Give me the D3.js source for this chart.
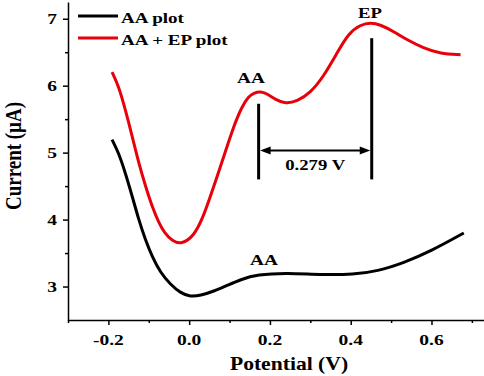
<!DOCTYPE html>
<html><head><meta charset="utf-8">
<script src="https://cdn.jsdelivr.net/npm/d3@7"></script>
<style>body{margin:0;background:#fff}svg{display:block}</style>
</head><body>
<script>
const aaX = [-0.191,-0.1745,-0.158,-0.141,-0.125,-0.108,-0.092,-0.071,-0.046,-0.022,0.003,0.028,0.061,0.094,0.127,0.168,0.242,0.325,0.408,0.466,0.531,0.598,0.680];
const aaY = [5.194,4.996,4.697,4.348,4.000,3.690,3.452,3.204,3.030,2.906,2.846,2.866,2.930,3.015,3.104,3.179,3.204,3.175,3.179,3.228,3.354,3.527,3.800];
const epX = [-0.191,-0.1745,-0.158,-0.141,-0.125,-0.108,-0.092,-0.075,-0.061,-0.042,-0.019,0.011,0.036,0.061,0.086,0.110,0.131,0.147,0.160,0.176,0.193,0.214,0.238,0.267,0.300,0.333,0.366,0.395,0.424,0.449,0.474,0.506,0.539,0.580,0.622,0.672];
const epY = [6.204,5.990,5.642,5.243,4.846,4.497,4.199,3.950,3.801,3.680,3.632,3.745,4.051,4.497,4.945,5.393,5.691,5.840,5.890,5.915,5.881,5.791,5.731,5.766,5.891,6.139,6.488,6.787,6.910,6.945,6.910,6.810,6.687,6.563,6.478,6.463];
const xTicks = [-0.2,0.0,0.2,0.4,0.6];
const xMinor = [-0.3,-0.1,0.1,0.3,0.5,0.7];
const yTicks = [3,4,5,6,7];
const yMinor = [3.5,4.5,5.5,6.5];
const seriesNames = ["AA plot","AA + EP plot"];
const seriesColors = ["#000000","#e8000b"];
const peakX = [0.172, 0.452];
const peakTop = [5.73, 6.71];
const peakBottom = 4.6;
const arrowY = 5.03;
const sepLabel = "0.279 V";

const W=484,H=376;
const svg=d3.select("body").append("svg").attr("width",W).attr("height",H);
const x=d3.scaleLinear().domain([-0.3,0.73]).range([68,484]);
const y=d3.scaleLinear().domain([2.5,7.25]).range([320,2]);
const font="'Liberation Serif','Times New Roman',serif";

function txt(tx,ty,t,size,sx,anchor,fill){
  const g=svg.append("g").attr("transform",`translate(${tx},${ty}) scale(${sx},1)`);
  g.append("text").attr("text-anchor",anchor||"middle").attr("font-family",font)
    .attr("font-weight","bold").attr("font-size",size).attr("fill",fill||"#000").text(t);
  return g;
}

// axes
svg.append("g").attr("transform","translate(0,320)")
  .call(d3.axisBottom(x).tickValues(xTicks).tickFormat("").tickSize(5).tickSizeOuter(0));
svg.append("g").attr("transform","translate(0,320)")
  .call(d3.axisBottom(x).tickValues(xMinor).tickFormat("").tickSize(3).tickSizeOuter(0)).select(".domain").remove();
svg.append("g").attr("transform","translate(68,0)")
  .call(d3.axisLeft(y).tickValues(yTicks).tickFormat("").tickSize(5).tickSizeOuter(0));
svg.append("g").attr("transform","translate(68,0)")
  .call(d3.axisLeft(y).tickValues(yMinor).tickFormat("").tickSize(3).tickSizeOuter(0)).select(".domain").remove();
svg.selectAll(".domain, .tick line").attr("stroke","#000").attr("stroke-width",1.5);
svg.selectAll(".tick text").remove();
const fx=d3.format(".1f");
xTicks.forEach(v=>txt(x(v),345,fx(v).replace("−","-"),15,1.3,"middle"));
yTicks.forEach(v=>txt(57,y(v)+5,String(v),15,1.3,"end"));

// titles
txt(289,370,"Potential (V)",18,1.2,"middle");
svg.append("g").attr("transform","translate(21,156) rotate(-90) scale(1,1.2)")
  .append("text").attr("text-anchor","middle").attr("font-family",font)
  .attr("font-weight","bold").attr("font-size",19).text("Current (µA)");

// curves
const line=d3.line().x(d=>x(d[0])).y(d=>y(d[1])).curve(d3.curveBasis);
svg.append("path").datum(aaX.map((v,i)=>[v,aaY[i]])).attr("d",line)
  .attr("fill","none").attr("stroke",seriesColors[0]).attr("stroke-width",3);
svg.append("path").datum(epX.map((v,i)=>[v,epY[i]])).attr("d",line)
  .attr("fill","none").attr("stroke",seriesColors[1]).attr("stroke-width",3);

// annotation
peakX.forEach((px,i)=>{
  svg.append("line").attr("x1",x(px)).attr("x2",x(px)).attr("y1",y(peakTop[i])).attr("y2",y(peakBottom))
    .attr("stroke","#000").attr("stroke-width",3);
});
svg.append("line").attr("x1",x(peakX[0])+8).attr("x2",x(peakX[1])-8).attr("y1",y(arrowY)).attr("y2",y(arrowY))
  .attr("stroke","#000").attr("stroke-width",2);
[[x(peakX[0]),1],[x(peakX[1]),-1]].forEach(([ax,dir])=>{
  const ay=y(arrowY);
  svg.append("path").attr("d",`M${ax+1.5*dir},${ay} L${ax+12*dir},${ay-4} L${ax+12*dir},${ay+4} Z`).attr("fill","#000");
});
txt((x(peakX[0])+x(peakX[1]))/2,170,sepLabel,15,1.25,"middle");

txt(251,83,"AA",15,1.29,"middle");
txt(370,18,"EP",15,1.25,"middle");
txt(264,265,"AA",15,1.29,"middle");

// legend
seriesNames.forEach((n,i)=>{
  const ly=16+i*22;
  svg.append("line").attr("x1",78).attr("x2",118).attr("y1",ly).attr("y2",ly).attr("stroke",seriesColors[i]).attr("stroke-width",3);
  txt(121,ly+6.5,n,14,1.36,"start");
});
</script>
</body></html>
